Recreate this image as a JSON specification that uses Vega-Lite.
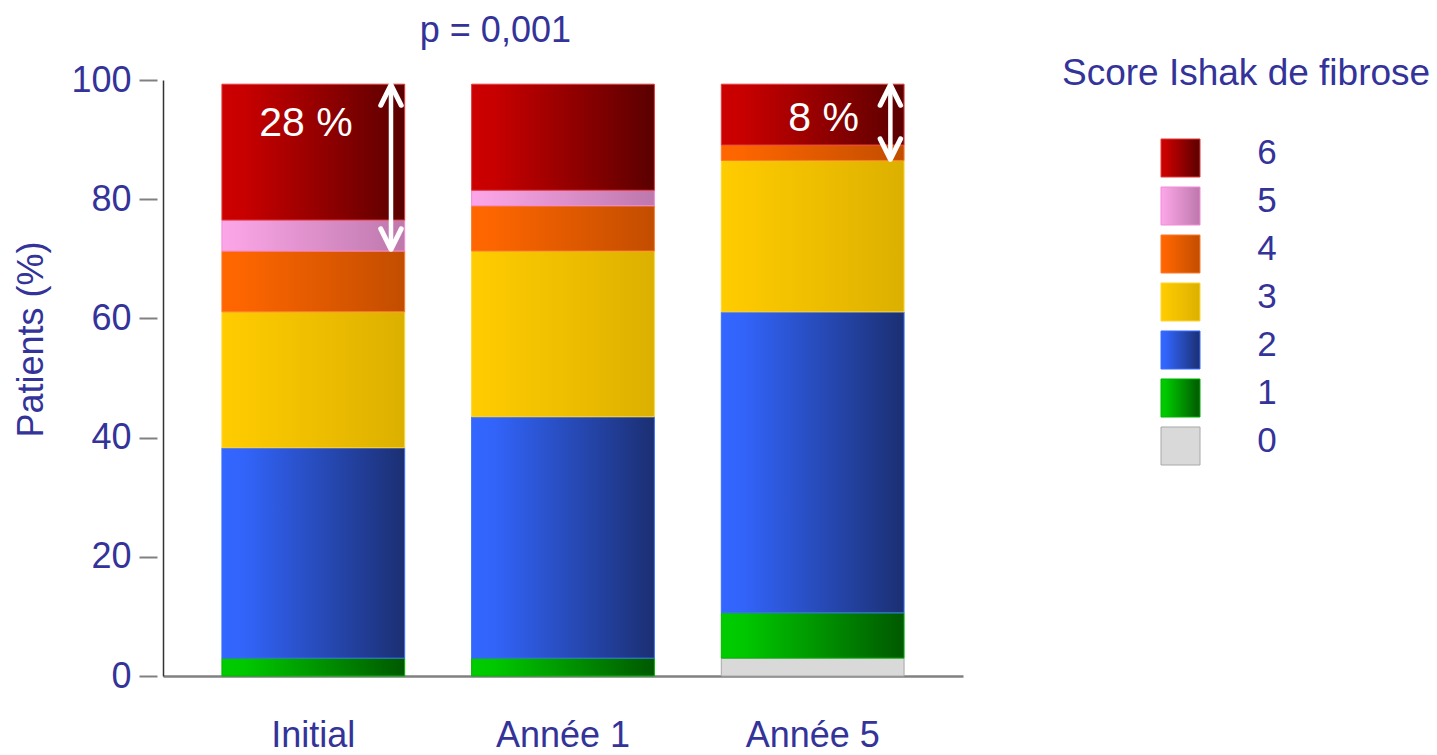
{
  "$schema": "https://vega.github.io/schema/vega-lite/v6.json",
  "autosize": {"type": "pad"},
  "padding": {"left": 13, "top": 12, "right": 5, "bottom": 5},
  "background": "white",
  "bounds": "flush",
  "spacing": 198,
  "config": {
    "view": {"stroke": null},
    "font": "Liberation Sans"
  },
  "hconcat": [
    {
      "width": 800,
      "height": 596,
      "layer": [
        {
          "data": {
            "values": [
              {"visite": "Initial", "score": "1", "pct": 3.0},
              {"visite": "Initial", "score": "2", "pct": 35.3},
              {"visite": "Initial", "score": "3", "pct": 22.8},
              {"visite": "Initial", "score": "4", "pct": 10.2},
              {"visite": "Initial", "score": "5", "pct": 5.2},
              {"visite": "Initial", "score": "6", "pct": 22.8},
              {"visite": "Année 1", "score": "1", "pct": 3.0},
              {"visite": "Année 1", "score": "2", "pct": 40.5},
              {"visite": "Année 1", "score": "3", "pct": 27.8},
              {"visite": "Année 1", "score": "4", "pct": 7.6},
              {"visite": "Année 1", "score": "5", "pct": 2.6},
              {"visite": "Année 1", "score": "6", "pct": 17.8},
              {"visite": "Année 5", "score": "0", "pct": 3.0},
              {"visite": "Année 5", "score": "1", "pct": 7.6},
              {"visite": "Année 5", "score": "2", "pct": 50.5},
              {"visite": "Année 5", "score": "3", "pct": 25.4},
              {"visite": "Année 5", "score": "4", "pct": 2.6},
              {"visite": "Année 5", "score": "6", "pct": 10.2}
            ]
          },
          "mark": {"type": "bar", "strokeWidth": 1},
          "encoding": {
            "x": {
              "field": "visite",
              "type": "nominal",
              "sort": ["Initial", "Année 1", "Année 5"],
              "scale": {"paddingInner": 0.268, "paddingOuter": 0.236},
              "axis": {
                "title": null,
                "labelAngle": 0,
                "labelFont": "Liberation Sans",
                "labelFontSize": 36,
                "labelColor": "#333399",
                "labelPadding": 42,
                "ticks": false,
                "tickSize": 0,
                "domainColor": "#808080",
                "domainWidth": 2.5
              }
            },
            "y": {
              "field": "pct",
              "type": "quantitative",
              "stack": "zero",
              "scale": {"domain": [0, 100], "nice": false},
              "axis": {
                "orient": "left",
                "values": [0, 20, 40, 60, 80, 100],
                "offset": 6,
                "domain": false,
                "grid": false,
                "tickSize": 18,
                "tickWidth": 2,
                "tickColor": "#808080",
                "labelPadding": 8,
                "labelFont": "Liberation Sans",
                "labelFontSize": 36,
                "labelColor": "#333399",
                "title": "Patients (%)",
                "titleFont": "Liberation Sans",
                "titleFontSize": 36,
                "titleFontWeight": "normal",
                "titleColor": "#333399",
                "titleAngle": -90,
                "titleAlign": "center",
                "titleBaseline": "middle",
                "titleX": -126,
                "titleY": 259
              }
            },
            "fill": {
              "condition": [
                {"test": "datum.score === '6'", "value": {"gradient": "linear", "x1": 0, "y1": 0, "x2": 1, "y2": 0, "stops": [{"offset": 0, "color": "#CC0000"}, {"offset": 0.12, "color": "#C80000"}, {"offset": 1, "color": "#5A0000"}]}},
                {"test": "datum.score === '5'", "value": {"gradient": "linear", "x1": 0, "y1": 0, "x2": 1, "y2": 0, "stops": [{"offset": 0, "color": "#FBA6E8"}, {"offset": 0.12, "color": "#F6A2E2"}, {"offset": 1, "color": "#BD78AC"}]}},
                {"test": "datum.score === '4'", "value": {"gradient": "linear", "x1": 0, "y1": 0, "x2": 1, "y2": 0, "stops": [{"offset": 0, "color": "#FF6600"}, {"offset": 0.12, "color": "#FC6500"}, {"offset": 1, "color": "#C24D00"}]}},
                {"test": "datum.score === '3'", "value": {"gradient": "linear", "x1": 0, "y1": 0, "x2": 1, "y2": 0, "stops": [{"offset": 0, "color": "#FFCC00"}, {"offset": 0.12, "color": "#FCC900"}, {"offset": 1, "color": "#DCB000"}]}},
                {"test": "datum.score === '2'", "value": {"gradient": "linear", "x1": 0, "y1": 0, "x2": 1, "y2": 0, "stops": [{"offset": 0, "color": "#3366FF"}, {"offset": 0.12, "color": "#3264FA"}, {"offset": 1, "color": "#1B2F72"}]}},
                {"test": "datum.score === '1'", "value": {"gradient": "linear", "x1": 0, "y1": 0, "x2": 1, "y2": 0, "stops": [{"offset": 0, "color": "#00CC00"}, {"offset": 0.12, "color": "#00C800"}, {"offset": 1, "color": "#005800"}]}}
              ],
              "value": "#D9D9D9"
            },
            "stroke": {
              "field": "score",
              "type": "nominal",
              "scale": {
                "domain": ["6", "5", "4", "3", "2", "1", "0"],
                "range": ["#E23A3A", "#F48AD8", "#FF7A2E", "#FFD633", "#3A6EFF", "#00B400", "#A8A8A8"]
              },
              "legend": null
            },
            "order": {"field": "score", "type": "ordinal", "sort": "ascending"}
          }
        },
        {
          "data": {
            "values": [
              {"visite": "Initial", "bas": 71.6, "haut": 99.2},
              {"visite": "Année 5", "bas": 86.7, "haut": 99.2}
            ]
          },
          "mark": {"type": "rule", "color": "white", "strokeWidth": 4.5},
          "encoding": {
            "x": {"field": "visite", "type": "nominal", "bandPosition": 0.925, "sort": ["Initial", "Année 1", "Année 5"]},
            "y": {
              "field": "bas",
              "type": "quantitative",
              "axis": {
                "orient": "left",
                "offset": 0,
                "domain": true,
                "domainColor": "#333333",
                "domainWidth": 1.5,
                "ticks": false,
                "labels": false,
                "grid": false,
                "title": null
              }
            },
            "y2": {"field": "haut"}
          }
        },
        {
          "data": {
            "values": [
              {"visite": "Initial", "pointe": 99.2, "sens": "haut"},
              {"visite": "Initial", "pointe": 71.6, "sens": "bas"},
              {"visite": "Année 5", "pointe": 99.2, "sens": "haut"},
              {"visite": "Année 5", "pointe": 86.7, "sens": "bas"}
            ]
          },
          "mark": {"type": "point", "filled": false, "opacity": 1, "stroke": "white", "strokeWidth": 5, "strokeCap": "round", "strokeJoin": "round", "size": 420},
          "encoding": {
            "x": {"field": "visite", "type": "nominal", "bandPosition": 0.925, "sort": ["Initial", "Année 1", "Année 5"]},
            "y": {"field": "pointe", "type": "quantitative", "axis": null},
            "shape": {
              "field": "sens",
              "type": "nominal",
              "scale": {"domain": ["haut", "bas"], "range": ["M-1,2L0,0L1,2", "M-1,-2L0,0L1,-2"]},
              "legend": null
            }
          }
        },
        {
          "data": {"values": [{"visite": "Initial", "texte": "28 %"}]},
          "mark": {"type": "text", "color": "white", "fontSize": 41, "font": "Liberation Sans", "align": "center", "baseline": "alphabetic"},
          "encoding": {
            "x": {"field": "visite", "type": "nominal", "bandPosition": 0.46, "sort": ["Initial", "Année 1", "Année 5"]},
            "y": {"datum": 90.6, "type": "quantitative", "axis": null},
            "text": {"field": "texte"}
          }
        },
        {
          "data": {"values": [{"visite": "Année 5", "texte": "8 %"}]},
          "mark": {"type": "text", "color": "white", "fontSize": 41, "font": "Liberation Sans", "align": "center", "baseline": "alphabetic"},
          "encoding": {
            "x": {"field": "visite", "type": "nominal", "bandPosition": 0.56, "sort": ["Initial", "Année 1", "Année 5"]},
            "y": {"datum": 91.5, "type": "quantitative", "axis": null},
            "text": {"field": "texte"}
          }
        },
        {
          "data": {"values": [{"visite": "Année 1", "texte": "p = 0,001"}]},
          "mark": {"type": "text", "color": "#333399", "fontSize": 36, "font": "Liberation Sans", "align": "center", "baseline": "alphabetic"},
          "encoding": {
            "x": {"field": "visite", "type": "nominal", "bandPosition": 0.13, "sort": ["Initial", "Année 1", "Année 5"]},
            "y": {"datum": 106.4, "type": "quantitative", "axis": null},
            "text": {"field": "texte"}
          }
        }
      ],
      "resolve": {"axis": {"y": "independent"}}
    },
    {
      "width": 125.5,
      "height": 396,
      "title": {
        "text": "Score Ishak de fibrose",
        "font": "Liberation Sans",
        "fontSize": 37,
        "fontWeight": "normal",
        "color": "#333399",
        "anchor": "start",
        "frame": "group",
        "dx": -99,
        "baseline": "alphabetic",
        "offset": -42,
        "limit": 600
      },
      "data": {
        "values": [
          {"score": "6"}, {"score": "5"}, {"score": "4"}, {"score": "3"},
          {"score": "2"}, {"score": "1"}, {"score": "0"}
        ]
      },
      "encoding": {
        "y": {
          "field": "score",
          "type": "nominal",
          "scale": {"domain": [" ", "6", "5", "4", "3", "2", "1", "0"], "paddingInner": 0.208, "paddingOuter": 0.229},
          "axis": null
        }
      },
      "layer": [
        {
          "mark": {"type": "bar", "strokeWidth": 1},
          "encoding": {
            "x": {
              "datum": "symbole",
              "type": "nominal",
              "scale": {"domain": ["symbole", "libellé"], "paddingInner": 0.549, "paddingOuter": 0},
              "axis": null
            },
            "fill": {
              "condition": [
                {"test": "datum.score === '6'", "value": {"gradient": "linear", "x1": 0, "y1": 0, "x2": 1, "y2": 0, "stops": [{"offset": 0, "color": "#CC0000"}, {"offset": 0.12, "color": "#C80000"}, {"offset": 1, "color": "#5A0000"}]}},
                {"test": "datum.score === '5'", "value": {"gradient": "linear", "x1": 0, "y1": 0, "x2": 1, "y2": 0, "stops": [{"offset": 0, "color": "#FBA6E8"}, {"offset": 0.12, "color": "#F6A2E2"}, {"offset": 1, "color": "#BD78AC"}]}},
                {"test": "datum.score === '4'", "value": {"gradient": "linear", "x1": 0, "y1": 0, "x2": 1, "y2": 0, "stops": [{"offset": 0, "color": "#FF6600"}, {"offset": 0.12, "color": "#FC6500"}, {"offset": 1, "color": "#C24D00"}]}},
                {"test": "datum.score === '3'", "value": {"gradient": "linear", "x1": 0, "y1": 0, "x2": 1, "y2": 0, "stops": [{"offset": 0, "color": "#FFCC00"}, {"offset": 0.12, "color": "#FCC900"}, {"offset": 1, "color": "#DCB000"}]}},
                {"test": "datum.score === '2'", "value": {"gradient": "linear", "x1": 0, "y1": 0, "x2": 1, "y2": 0, "stops": [{"offset": 0, "color": "#3366FF"}, {"offset": 0.12, "color": "#3264FA"}, {"offset": 1, "color": "#1B2F72"}]}},
                {"test": "datum.score === '1'", "value": {"gradient": "linear", "x1": 0, "y1": 0, "x2": 1, "y2": 0, "stops": [{"offset": 0, "color": "#00CC00"}, {"offset": 0.12, "color": "#00C800"}, {"offset": 1, "color": "#005800"}]}}
              ],
              "value": "#D9D9D9"
            },
            "stroke": {
              "field": "score",
              "type": "nominal",
              "scale": {
                "domain": ["6", "5", "4", "3", "2", "1", "0"],
                "range": ["#F06A8A", "#F9C0EC", "#FF9A66", "#FFE066", "#7A9CFF", "#33CC33", "#B0B0B0"]
              },
              "legend": null
            }
          }
        },
        {
          "mark": {"type": "text", "color": "#333399", "fontSize": 35, "font": "Liberation Sans", "align": "center", "baseline": "middle", "dy": -5},
          "encoding": {
            "x": {"datum": "libellé", "type": "nominal"},
            "text": {"field": "score"}
          }
        }
      ]
    }
  ]
}
